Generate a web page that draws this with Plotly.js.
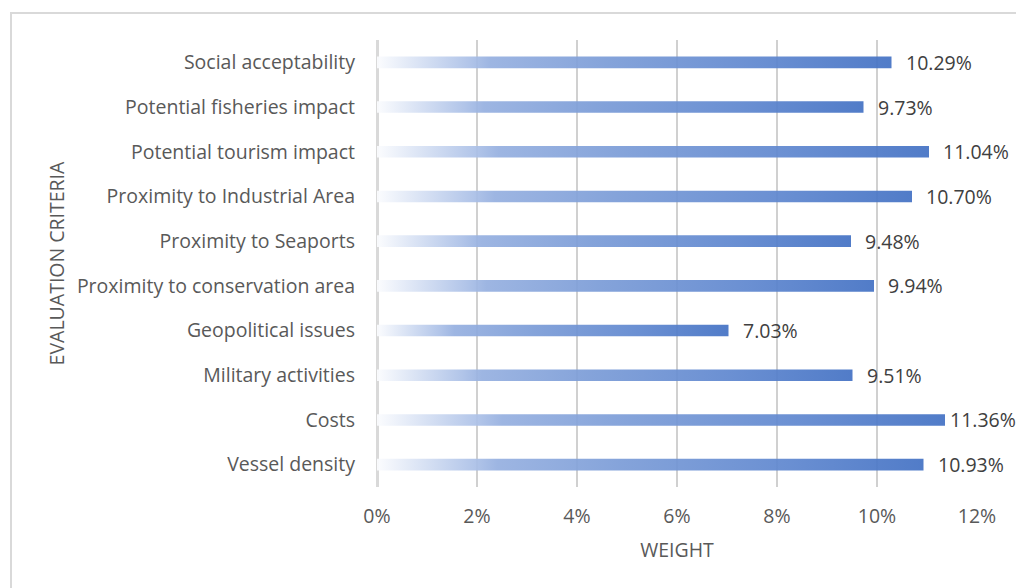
<!DOCTYPE html>
<html>
<head>
<meta charset="utf-8">
<script src="https://cdn.plot.ly/plotly-3.0.1.min.js"></script>
<style>
  html, body { margin: 0; padding: 0; background: #ffffff; overflow: hidden; }
  #wrap { position: relative; width: 1016px; height: 588px; }
  #chart { position: absolute; left: 0; top: 0; width: 1016px; height: 588px; }
  #frame { position: absolute; left: 10px; top: 12px; width: 1100px; height: 700px;
           border: 2px solid #d9d9d9; pointer-events: none; }
</style>
</head>
<body>
<div id="wrap">
  <div id="chart"></div>
  <div id="frame"></div>
</div>
<script>
// Evaluation criteria (top to bottom) and their weights in percent
const criteria = [
  "Social acceptability",
  "Potential fisheries impact",
  "Potential tourism impact",
  "Proximity to Industrial Area",
  "Proximity to Seaports",
  "Proximity to conservation area",
  "Geopolitical issues",
  "Military activities",
  "Costs",
  "Vessel density"
];
const weights = [10.29, 9.73, 11.04, 10.70, 9.48, 9.94, 7.03, 9.51, 11.36, 10.93];
const tickValues = [0, 2, 4, 6, 8, 10, 12];
const tickLabels = ["0%", "2%", "4%", "6%", "8%", "10%", "12%"];

const FONT = "Open Sans, sans-serif";
const FONT_SIZE = 19.5;
const textGrey = "#595959";

const trace = {
  type: "bar",
  orientation: "h",
  y: criteria,
  x: weights,
  width: 0.26,
  marker: { color: "#4472C4", line: { width: 0 } },
  hoverinfo: "skip"
};

// Value labels just past each bar end; the longest bar's label is tucked in
// closer so it stays inside the page
const labels = criteria.map((c, i) => ({
  x: weights[i],
  y: c,
  xref: "x",
  yref: "y",
  text: weights[i].toFixed(2) + "%",
  showarrow: false,
  xanchor: "left",
  yanchor: "middle",
  xshift: weights[i] > 11.2 ? 3 : 12,
  font: { family: FONT, size: FONT_SIZE, color: "#404040" }
}));

const layout = {
  width: 1016,
  height: 588,
  margin: { l: 377, r: 39, t: 40, b: 101 },
  paper_bgcolor: "#ffffff",
  plot_bgcolor: "#ffffff",
  showlegend: false,
  font: { family: FONT, size: FONT_SIZE, color: textGrey },
  xaxis: {
    range: [0, 12],
    tickvals: tickValues,
    ticktext: tickLabels,
    showgrid: true,
    gridcolor: "#d0d0d0",
    gridwidth: 2,
    zeroline: true,
    zerolinecolor: "#d9d9d9",
    zerolinewidth: 3,
    showline: false,
    ticks: "",
    ticklabelstandoff: 15,
    tickfont: { family: FONT, size: FONT_SIZE, color: textGrey },
    title: { text: "WEIGHT", standoff: 15, font: { family: FONT, size: FONT_SIZE, color: textGrey } },
    automargin: false,
    fixedrange: true
  },
  yaxis: {
    type: "category",
    autorange: "reversed",
    showgrid: false,
    zeroline: false,
    showline: false,
    ticks: "",
    ticklabelstandoff: 21,
    tickfont: { family: FONT, size: FONT_SIZE, color: textGrey },
    title: { text: "EVALUATION CRITERIA", standoff: 7, font: { family: FONT, size: FONT_SIZE, color: textGrey } },
    automargin: false,
    fixedrange: true
  },
  annotations: labels
};

// Fade each bar from near-white at its base to full blue at its end
function applyGradient(gd) {
  const svg = gd.querySelector(".main-svg");
  if (!svg) return;
  const ns = "http://www.w3.org/2000/svg";
  let defs = svg.querySelector("defs");
  if (!defs) { defs = document.createElementNS(ns, "defs"); svg.insertBefore(defs, svg.firstChild); }
  const grad = document.createElementNS(ns, "linearGradient");
  grad.setAttribute("id", "barFade");
  grad.setAttribute("x1", "0"); grad.setAttribute("y1", "0");
  grad.setAttribute("x2", "1"); grad.setAttribute("y2", "0");
  const stops = [
    [0, "#fbfcfe"],
    [0.18, "#abc0e7"],
    [0.22, "#96b0e0"],
    [0.45, "#7b9cd7"],
    [0.75, "#5f87cf"],
    [1, "#4472C4"]
  ];
  stops.forEach(([o, c]) => {
    const s = document.createElementNS(ns, "stop");
    s.setAttribute("offset", o);
    s.setAttribute("stop-color", c);
    grad.appendChild(s);
  });
  defs.appendChild(grad);
  gd.querySelectorAll(".barlayer .point path").forEach(p => {
    p.style.fill = "url(#barFade)";
    p.style.fillOpacity = "0.93";
    p.style.stroke = "none";
  });
}

Plotly.newPlot("chart", [trace], layout, { staticPlot: true, displayModeBar: false })
  .then(applyGradient);
</script>
</body>
</html>
